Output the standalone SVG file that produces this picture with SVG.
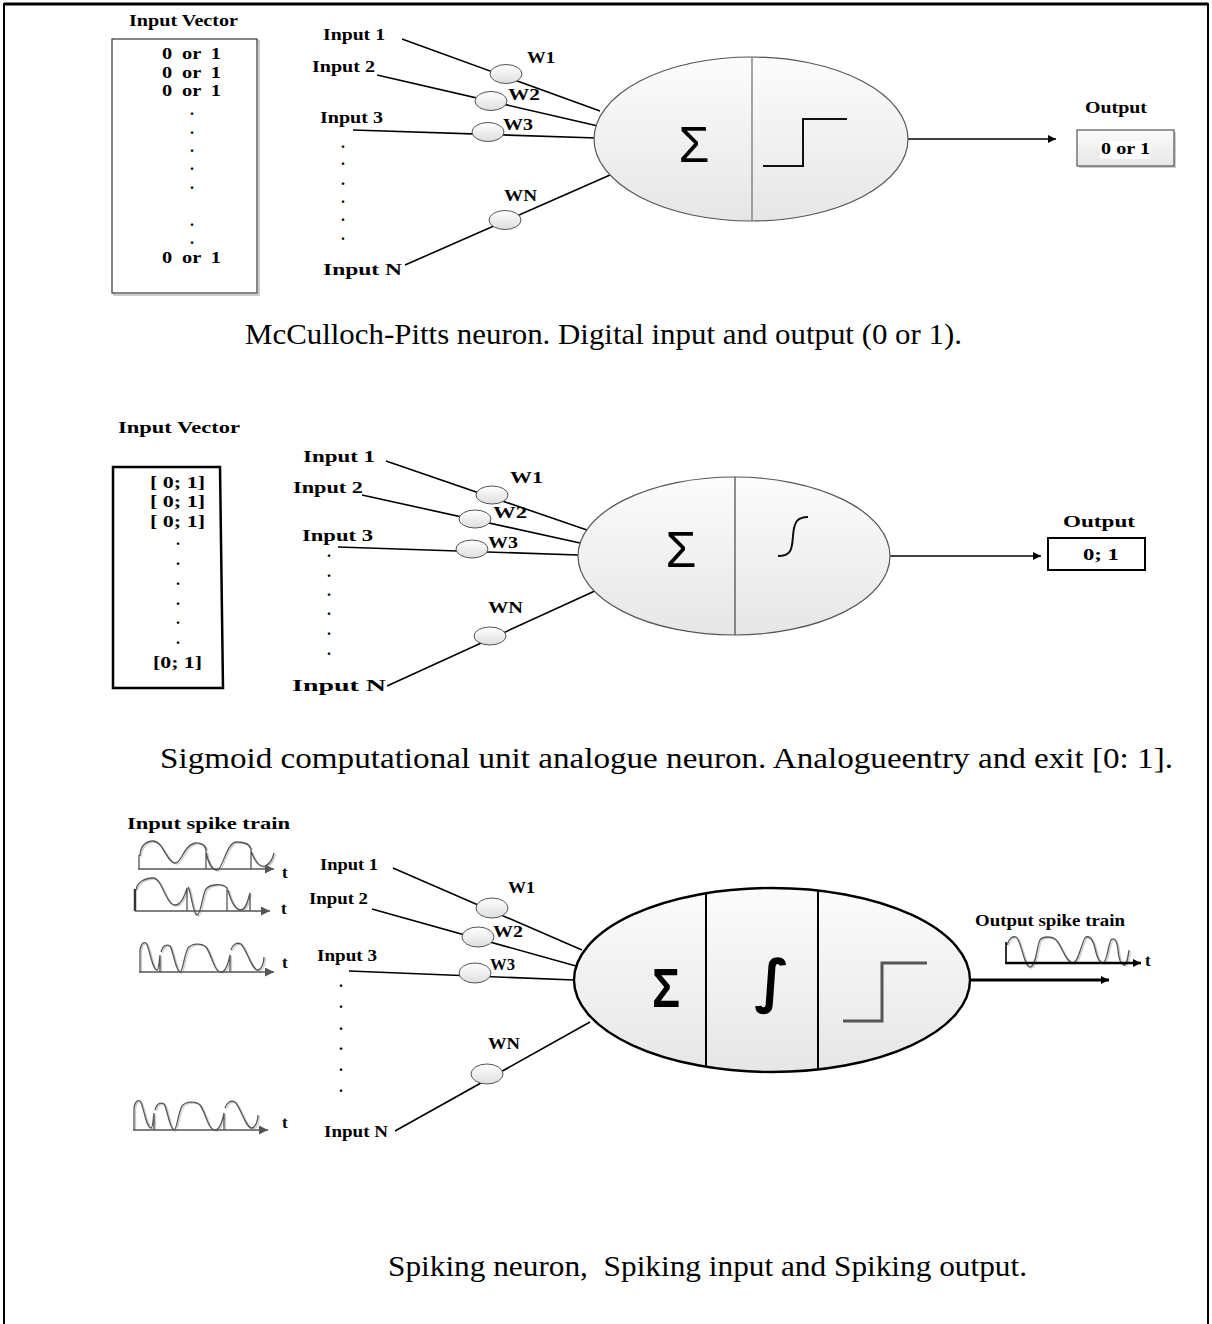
<svg xmlns="http://www.w3.org/2000/svg" width="1212" height="1324" viewBox="0 0 1212 1324">
<style>
.lb{font-family:"Liberation Serif","Times New Roman",serif;font-weight:bold;font-size:17px;fill:#000}
.dt{font-family:"Liberation Serif","Times New Roman",serif;font-weight:bold;font-size:16px;fill:#000;text-anchor:middle}
.cap{font-family:"Liberation Serif","Times New Roman",serif;font-size:29px;fill:#000}
.ln{stroke:#000;stroke-width:1.6;fill:none}
.wt{fill:url(#gw);stroke:#555;stroke-width:1}
.big{fill:url(#gb);stroke:#555;stroke-width:1.2}
.sig{font-family:"Liberation Sans",Arial,sans-serif;font-size:50px;fill:#000;text-anchor:middle}
.wave{fill:none;stroke:#555;stroke-width:1.3}
.waveS{fill:none;stroke:#ccc;stroke-width:1.3}
.ax{stroke:#555;stroke-width:1.6;fill:none}
</style>
<defs>
<linearGradient id="gb" x1="0" y1="0" x2="0" y2="1"><stop offset="0" stop-color="#fcfcfc"/><stop offset="1" stop-color="#e6e6e6"/></linearGradient>
<linearGradient id="gw" x1="0" y1="0" x2="0" y2="1"><stop offset="0" stop-color="#ffffff"/><stop offset="1" stop-color="#dedede"/></linearGradient>
<marker id="arr" viewBox="0 0 10 10" refX="10" refY="5" markerWidth="11" markerHeight="8" markerUnits="userSpaceOnUse" orient="auto"><path d="M0,0 L10,5 L0,10 z" fill="#000"/></marker>
<marker id="arrg" viewBox="0 0 10 10" refX="10" refY="5" markerWidth="12" markerHeight="9" markerUnits="userSpaceOnUse" orient="auto"><path d="M0,0 L10,5 L0,10 z" fill="#555"/></marker>
<path id="w3" d="M140,972 V950 M140,950 C141,943 144,942 146,943 C149,945 152,970 157,970 C159,970 159,962 160,955 V972 M161,952 C163,945 167,944 170,946 C173,950 176,972 180,972 C183,972 184,955 188,948 C192,943 202,943 206,947 C212,955 214,972 221,972 C226,972 229,960 230,955 V972 M231,950 C233,944 237,942 241,944 C247,950 252,971 258,970 C262,969 264,962 264,957"/>
</defs>
<rect width="1212" height="1324" fill="#fff"/>
<g id="frame"><path d="M4,1324 V4 H1208 V1324" fill="none" stroke="#000" stroke-width="2"/><line x1="4" y1="4" x2="1208" y2="4" stroke="#000" stroke-width="3"/></g>

<!-- ===== Section 1 ===== -->
<g id="input-vector-1">
<text class="lb" x="129" y="26" textLength="109" lengthAdjust="spacingAndGlyphs">Input Vector</text>
<rect x="114" y="41" width="145" height="254" fill="none" stroke="#bbb" stroke-width="1.5"/>
<rect x="112" y="39" width="145" height="254" fill="#fff" stroke="#444" stroke-width="1.3"/>
<text class="lb" x="162" y="59" style="word-spacing:4px" textLength="59" lengthAdjust="spacingAndGlyphs">0 or 1</text>
<text class="lb" x="162" y="78" style="word-spacing:4px" textLength="59" lengthAdjust="spacingAndGlyphs">0 or 1</text>
<text class="lb" x="162" y="96" style="word-spacing:4px" textLength="59" lengthAdjust="spacingAndGlyphs">0 or 1</text>
<text class="dt" x="192" y="115">.</text><text class="dt" x="192" y="134">.</text><text class="dt" x="192" y="152">.</text><text class="dt" x="192" y="170">.</text><text class="dt" x="192" y="189">.</text><text class="dt" x="192" y="226">.</text><text class="dt" x="192" y="244">.</text>
<text class="lb" x="162" y="263" style="word-spacing:4px" textLength="59" lengthAdjust="spacingAndGlyphs">0 or 1</text>
</g>
<g id="inputs-1">
<text class="lb" x="323" y="40" textLength="62" lengthAdjust="spacingAndGlyphs">Input 1</text>
<text class="lb" x="312" y="72" textLength="63" lengthAdjust="spacingAndGlyphs">Input 2</text>
<text class="lb" x="320" y="123" textLength="63" lengthAdjust="spacingAndGlyphs">Input 3</text>
<text class="lb" x="323" y="275" textLength="79" lengthAdjust="spacingAndGlyphs">Input N</text>
<text class="dt" x="343" y="148">.</text><text class="dt" x="343" y="165">.</text><text class="dt" x="343" y="185">.</text><text class="dt" x="343" y="203">.</text><text class="dt" x="343" y="221">.</text><text class="dt" x="343" y="240">.</text>
</g>
<g id="connectors-1">
<line class="ln" x1="402" y1="39" x2="600" y2="111"/>
<line class="ln" x1="377" y1="75" x2="598" y2="126"/>
<line class="ln" x1="353" y1="130" x2="597" y2="138"/>
<line class="ln" x1="405" y1="265" x2="610" y2="175"/>
<line class="ln" x1="908" y1="139" x2="1056" y2="139" marker-end="url(#arr)"/>
</g>
<g id="weights-1">
<ellipse class="wt" cx="506" cy="74" rx="16" ry="9.5"/><text class="lb" x="527" y="63" textLength="28" lengthAdjust="spacingAndGlyphs">W1</text>
<ellipse class="wt" cx="491" cy="101" rx="16" ry="9.5"/><text class="lb" x="508" y="100" textLength="32" lengthAdjust="spacingAndGlyphs">W2</text>
<ellipse class="wt" cx="488" cy="132" rx="16" ry="9.5"/><text class="lb" x="503" y="130" textLength="30" lengthAdjust="spacingAndGlyphs">W3</text>
<ellipse class="wt" cx="505" cy="220" rx="16" ry="9.5"/><text class="lb" x="504" y="201" textLength="33" lengthAdjust="spacingAndGlyphs">WN</text>
</g>
<g id="neuron-1">
<ellipse class="big" cx="751" cy="139" rx="157" ry="82"/>
<line x1="752" y1="57" x2="752" y2="221" stroke="#777" stroke-width="1.3"/>
<text class="sig" x="694" y="162">Σ</text>
<polyline points="763,166 803,166 803,119 847,119" fill="none" stroke="#111" stroke-width="2"/>
</g>
<g id="output-1">
<text class="lb" x="1085" y="113" textLength="62" lengthAdjust="spacingAndGlyphs">Output</text>
<rect x="1079" y="132" width="97" height="36" fill="#ccc"/>
<rect x="1077" y="130" width="97" height="36" fill="url(#gb)" stroke="#555" stroke-width="1.2"/>
<rect x="1100" y="141" width="50" height="18" fill="#fff"/>
<text class="lb" x="1101" y="154" textLength="49" lengthAdjust="spacingAndGlyphs">0 or 1</text>
</g>
<text id="caption-1" class="cap" x="245" y="344" textLength="717" lengthAdjust="spacingAndGlyphs">McCulloch-Pitts neuron. Digital input and output (0 or 1).</text>

<!-- ===== Section 2 ===== -->
<g id="input-vector-2">
<text class="lb" x="118" y="433" textLength="122" lengthAdjust="spacingAndGlyphs">Input Vector</text>
<polygon points="113,467 220,467 223,688 113,688" fill="#fff" stroke="#000" stroke-width="2.5"/>
<text class="lb" x="150" y="488" textLength="55" lengthAdjust="spacingAndGlyphs">[ 0; 1]</text>
<text class="lb" x="150" y="507" textLength="55" lengthAdjust="spacingAndGlyphs">[ 0; 1]</text>
<text class="lb" x="150" y="527" textLength="55" lengthAdjust="spacingAndGlyphs">[ 0; 1]</text>
<text class="dt" x="178" y="545">.</text><text class="dt" x="178" y="565">.</text><text class="dt" x="178" y="585">.</text><text class="dt" x="178" y="605">.</text><text class="dt" x="178" y="624">.</text><text class="dt" x="178" y="644">.</text>
<text class="lb" x="153" y="668" textLength="49" lengthAdjust="spacingAndGlyphs">[0; 1]</text>
</g>
<g id="inputs-2">
<text class="lb" x="303" y="462" textLength="72" lengthAdjust="spacingAndGlyphs">Input 1</text>
<text class="lb" x="293" y="493" textLength="70" lengthAdjust="spacingAndGlyphs">Input 2</text>
<text class="lb" x="302" y="541" textLength="71" lengthAdjust="spacingAndGlyphs">Input 3</text>
<text class="lb" x="292" y="691" textLength="94" lengthAdjust="spacingAndGlyphs">Input N</text>
<text class="dt" x="329" y="557">.</text><text class="dt" x="329" y="577">.</text><text class="dt" x="329" y="596">.</text><text class="dt" x="329" y="615">.</text><text class="dt" x="329" y="635">.</text><text class="dt" x="329" y="655">.</text>
</g>
<g id="connectors-2">
<line class="ln" x1="386" y1="461" x2="587" y2="530"/>
<line class="ln" x1="362" y1="495" x2="580" y2="543"/>
<line class="ln" x1="338" y1="547" x2="578" y2="555"/>
<line class="ln" x1="387" y1="686" x2="597" y2="590"/>
<line class="ln" x1="890" y1="556" x2="1041" y2="556" marker-end="url(#arr)"/>
</g>
<g id="weights-2">
<ellipse class="wt" cx="492" cy="495" rx="16" ry="9"/><text class="lb" x="510" y="483" textLength="33" lengthAdjust="spacingAndGlyphs">W1</text>
<ellipse class="wt" cx="475" cy="519" rx="16" ry="9"/><text class="lb" x="493" y="518" textLength="34" lengthAdjust="spacingAndGlyphs">W2</text>
<ellipse class="wt" cx="472" cy="549" rx="16" ry="9"/><text class="lb" x="488" y="548" textLength="30" lengthAdjust="spacingAndGlyphs">W3</text>
<ellipse class="wt" cx="490" cy="636" rx="16" ry="9"/><text class="lb" x="488" y="613" textLength="35" lengthAdjust="spacingAndGlyphs">WN</text>
</g>
<g id="neuron-2">
<ellipse class="big" cx="734" cy="556" rx="156" ry="79"/>
<line x1="735" y1="477" x2="735" y2="635" stroke="#444" stroke-width="1.2"/>
<text class="sig" x="681" y="567">Σ</text>
<path d="M778,556 C792,556 792,548 793,536 C794,522 797,517 808,517" fill="none" stroke="#111" stroke-width="2"/>
</g>
<g id="output-2">
<text class="lb" x="1063" y="527" textLength="72" lengthAdjust="spacingAndGlyphs">Output</text>
<rect x="1048" y="538" width="97" height="32" fill="#fff" stroke="#000" stroke-width="2"/>
<text class="lb" x="1083" y="560" textLength="36" lengthAdjust="spacingAndGlyphs">0; 1</text>
</g>
<text id="caption-2" class="cap" x="160" y="768" textLength="1013" lengthAdjust="spacingAndGlyphs">Sigmoid computational unit analogue neuron. Analogueentry and exit [0: 1].</text>

<!-- ===== Section 3 ===== -->
<g id="input-spikes">
<text class="lb" x="127" y="829" textLength="163" lengthAdjust="spacingAndGlyphs">Input spike train</text>
<g id="spike-1">
<path class="waveS" transform="translate(1.5,1)" d="M140,856 C140,846 146,841 153,841 C163,841 167,863 175,863 C182,863 183,846 195,843 C201,842 206,846 206,850 M206,852 C208,862 212,870 217,870 C223,870 226,842 237,842 C245,842 250,845 251,849 M251,851 C255,862 260,868 265,866 C270,864 273,858 274,853"/>
<path class="wave" d="M139,869 V855 M140,856 C140,846 146,841 153,841 C163,841 167,863 175,863 C182,863 183,846 195,843 C201,842 206,846 206,850 V869 M206,852 C208,862 212,870 217,870 C223,870 226,842 237,842 C245,842 250,845 251,849 V869 M251,851 C255,862 260,868 265,866 C270,864 273,858 274,853"/>
<line class="ax" x1="138" y1="869" x2="274" y2="869" marker-end="url(#arrg)"/>
<text class="lb" x="282" y="878">t</text>
</g>
<g id="spike-2">
<path class="waveS" transform="translate(1.5,1)" d="M136,890 C137,882 145,878 153,878 C162,878 166,905 175,905 C181,905 185,895 187,888 M188,887 C191,890 193,915 197,915 C201,915 203,892 206,889 C210,884 222,883 227,888 M228,890 C232,905 236,910 241,910 C246,910 248,900 250,893"/>
<path class="wave" d="M136,890 C137,882 145,878 153,878 C162,878 166,905 175,905 C181,905 185,895 187,888 V911 M188,887 C191,890 193,915 197,915 C201,915 203,892 206,889 C210,884 222,883 227,888 V911 M228,890 C232,905 236,910 241,910 C246,910 248,900 250,893 V911"/>
<line x1="135" y1="889" x2="135" y2="911" stroke="#333" stroke-width="2.5"/>
<line class="ax" x1="135" y1="911" x2="270" y2="911" marker-end="url(#arrg)"/>
<text class="lb" x="281" y="914">t</text>
</g>
<g id="spike-3">
<use href="#w3" class="waveS" transform="translate(1.5,1)"/>
<use href="#w3" class="wave"/>
<line class="ax" x1="139" y1="972" x2="274" y2="972" marker-end="url(#arrg)"/>
<text class="lb" x="282" y="968">t</text>
</g>
<g id="spike-4" transform="translate(-6,158)">
<use href="#w3" class="waveS" transform="translate(1.5,1)"/>
<use href="#w3" class="wave"/>
<line class="ax" x1="139" y1="972" x2="274" y2="972" marker-end="url(#arrg)"/>
<text class="lb" x="288" y="970">t</text>
</g>
</g>
<g id="inputs-3">
<text class="lb" x="320" y="870" textLength="58" lengthAdjust="spacingAndGlyphs">Input 1</text>
<text class="lb" x="309" y="904" textLength="59" lengthAdjust="spacingAndGlyphs">Input 2</text>
<text class="lb" x="317" y="961" textLength="60" lengthAdjust="spacingAndGlyphs">Input 3</text>
<text class="lb" x="324" y="1137" textLength="64" lengthAdjust="spacingAndGlyphs">Input N</text>
<text class="dt" x="341" y="987">.</text><text class="dt" x="341" y="1008">.</text><text class="dt" x="341" y="1030">.</text><text class="dt" x="341" y="1050">.</text><text class="dt" x="341" y="1071">.</text><text class="dt" x="341" y="1092">.</text>
</g>
<g id="connectors-3">
<line class="ln" x1="393" y1="868" x2="582" y2="950"/>
<line class="ln" x1="372" y1="909" x2="576" y2="966"/>
<line class="ln" x1="349" y1="971" x2="574" y2="980"/>
<line class="ln" x1="395" y1="1131" x2="590" y2="1022"/>
<line x1="970" y1="980" x2="1109" y2="980" stroke="#000" stroke-width="2.8" marker-end="url(#arr)"/>
</g>
<g id="weights-3">
<ellipse class="wt" cx="492" cy="908" rx="16" ry="10"/><text class="lb" x="508" y="893" textLength="27" lengthAdjust="spacingAndGlyphs">W1</text>
<ellipse class="wt" cx="478" cy="937" rx="16" ry="10"/><text class="lb" x="493" y="937" textLength="30" lengthAdjust="spacingAndGlyphs">W2</text>
<ellipse class="wt" cx="475" cy="973" rx="16" ry="10"/><text class="lb" x="490" y="970" textLength="25" lengthAdjust="spacingAndGlyphs">W3</text>
<ellipse class="wt" cx="487" cy="1074" rx="16" ry="10"/><text class="lb" x="488" y="1049" textLength="32" lengthAdjust="spacingAndGlyphs">WN</text>
</g>
<g id="neuron-3">
<ellipse cx="772" cy="980" rx="198" ry="92" fill="url(#gb)" stroke="#000" stroke-width="2.4"/>
<line x1="706" y1="893" x2="706" y2="1067" stroke="#000" stroke-width="2"/>
<line x1="818" y1="890" x2="818" y2="1070" stroke="#000" stroke-width="2"/>
<text x="666" y="1007" font-family="Liberation Sans,Arial,sans-serif" font-weight="bold" font-size="56" text-anchor="middle" textLength="28" lengthAdjust="spacingAndGlyphs">Σ</text>
<text x="772" y="1001" font-family="DejaVu Sans,sans-serif" font-weight="bold" font-size="58" text-anchor="middle">∫</text>
<polyline points="843,1021 882,1021 882,963 927,963" fill="none" stroke="#555" stroke-width="3"/>
</g>
<g id="output-spikes">
<text class="lb" x="975" y="926" textLength="150" lengthAdjust="spacingAndGlyphs">Output spike train</text>
<path class="waveS" transform="translate(1.5,1)" d="M1007,945 C1009,938 1013,936 1016,937 C1021,939 1024,967 1030,967 C1036,967 1037,945 1040,940 C1043,936 1052,936 1056,940 C1062,946 1066,963 1073,963 C1078,963 1081,945 1085,938 C1089,934 1093,940 1095,948 C1097,958 1100,963 1103,963 C1107,963 1108,945 1111,940 C1114,937 1117,940 1118,950 C1119,960 1121,965 1124,965 C1127,965 1128,957 1129,950"/>
<path class="wave" d="M1007,945 C1009,938 1013,936 1016,937 C1021,939 1024,967 1030,967 C1036,967 1037,945 1040,940 C1043,936 1052,936 1056,940 C1062,946 1066,963 1073,963 C1078,963 1081,945 1085,938 C1089,934 1093,940 1095,948 C1097,958 1100,963 1103,963 C1107,963 1108,945 1111,940 C1114,937 1117,940 1118,950 C1119,960 1121,965 1124,965 C1127,965 1128,957 1129,950"/>
<line x1="1006" y1="942" x2="1006" y2="963" stroke="#333" stroke-width="2"/>
<line x1="1005" y1="963" x2="1141" y2="963" stroke="#000" stroke-width="2.5" marker-end="url(#arr)"/>
<text class="lb" x="1145" y="966">t</text>
</g>
<text id="caption-3" class="cap" x="388" y="1276" xml:space="preserve" textLength="639" lengthAdjust="spacingAndGlyphs">Spiking neuron,  Spiking input and Spiking output.</text>
</svg>
